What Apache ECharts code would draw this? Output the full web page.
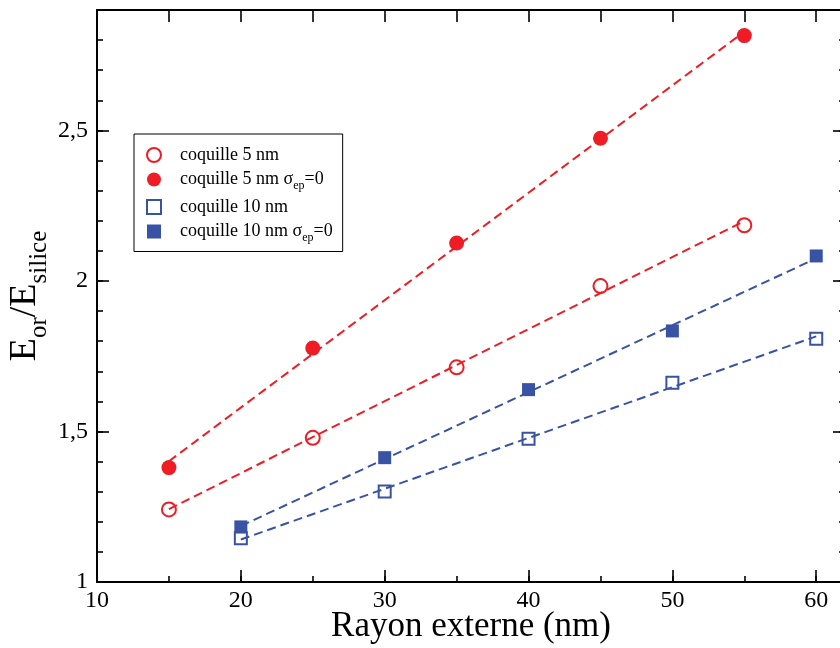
<!DOCTYPE html>
<html><head><meta charset="utf-8">
<script src="https://cdn.jsdelivr.net/npm/echarts@6/dist/echarts.min.js"></script>
<style>html,body{margin:0;padding:0;background:#fff}#c{width:840px;height:648px}</style>
</head><body><div id="c"></div>
<script>
// ---- data ----
const radius5nm = [15, 25, 35, 45, 55];
const radius10nm = [20, 30, 40, 50, 60];
const coquille5 = [1.241, 1.479, 1.713, 1.983, 2.185];
const coquille5Sigma0 = [1.380, 1.777, 2.126, 2.474, 2.815];
const coquille10 = [1.145, 1.301, 1.476, 1.662, 1.808];
const coquille10Sigma0 = [1.183, 1.413, 1.639, 1.834, 2.083];
// dashed fit lines (end points)
const fitX5 = [15, 55];
const fitX10 = [20, 60];
const fit5 = [1.242, 2.199];
const fit5Sigma0 = [1.401, 2.828];
const fit10 = [1.141, 1.816];
const fit10Sigma0 = [1.186, 2.075];
// tick labels
const xTickValues = [10, 20, 30, 40, 50, 60];
const xTickLabels = ['10', '20', '30', '40', '50', '60'];
const yTickValues = [1, 1.5, 2, 2.5];
const yTickLabels = ['1', '1,5', '2', '2,5'];
const seriesNames = ['coquille 5 nm', 'coquille 5 nm σep=0', 'coquille 10 nm', 'coquille 10 nm σep=0'];
const legendTexts = ['{n|coquille 5 nm}', '{n|coquille 5 nm σ}{s|ep}{n|=0}', '{n|coquille 10 nm}', '{n|coquille 10 nm σ}{s|ep}{n|=0}'];

const RED = '#ee1d25';
const BLUE = '#3953a4';
const FONT = '"Liberation Serif", "DejaVu Serif", serif';
const zip = (xs, ys) => xs.map((x, i) => [x, ys[i]]);

const XMIN = 10, XMAX = 62, YMIN = 1, YMAX = 2.9;
const lineCommon = { show: true, lineStyle: { color: '#000', width: 2 } };
const noLine = { show: false };
const tickMajor = { show: true, inside: true, length: 12, lineStyle: { color: '#000', width: 1.6 } };
const tickMinor = { show: true, inside: true, length: 6, lineStyle: { color: '#000', width: 1.6 } };
const noLabel = { show: false };

const chart = echarts.init(document.getElementById('c'), null, { renderer: 'canvas' });

function scatter(name, xs, ys, symbol, color, hollow, size) {
  return {
    name, type: 'scatter', xAxisIndex: 0, yAxisIndex: 0, z: 5,
    symbol, symbolSize: size,
    itemStyle: hollow
      ? { color: 'rgba(255,255,255,0)', borderColor: color, borderWidth: 2, opacity: 1 }
      : { color: color, borderWidth: 0, opacity: 1 },
    data: zip(xs, ys), silent: true
  };
}
function fit(name, xs, ys, color) {
  return {
    name, type: 'line', xAxisIndex: 0, yAxisIndex: 0, z: 3, symbol: 'none', silent: true,
    lineStyle: { color, width: 2, type: [9, 5] }, data: zip(xs, ys)
  };
}

chart.setOption({
  animation: false,
  backgroundColor: '#fff',
  grid: { left: 97, right: -5, top: 10, bottom: 66, outerBoundsMode: 'none', containLabel: false },
  legend: {
    data: seriesNames,
    orient: 'vertical', left: 134, top: 134,
    padding: [12, 10, 8, 12],
    backgroundColor: '#fff', borderColor: '#000', borderWidth: 1,
    itemWidth: 14, itemHeight: 14, itemGap: 6.5,
    formatter: (name) => legendTexts[seriesNames.indexOf(name)],
    itemStyle: { opacity: 1 },
    textStyle: {
      padding: [0, 0, 0, 14],
      rich: {
        n: { fontFamily: FONT, fontSize: 18, lineHeight: 24, color: '#000' },
        s: { fontFamily: FONT, fontSize: 12, lineHeight: 6, verticalAlign: 'bottom', color: '#000' }
      }
    },
    selectedMode: false
  },
  xAxis: [
    {
      type: 'value', position: 'bottom', min: XMIN, max: XMAX, interval: 10,
      axisLine: lineCommon, axisTick: tickMajor, splitLine: { show: false },
      axisLabel: {
        show: true, margin: 7, showMaxLabel: false, color: '#000', fontFamily: FONT, fontSize: 24,
        formatter: (v) => { const i = xTickValues.indexOf(v); return i >= 0 ? xTickLabels[i] : ''; }
      },
      name: 'Rayon externe (nm)', nameLocation: 'middle', nameGap: 27, nameMoveOverlap: false,
      nameTextStyle: { color: '#000', fontFamily: FONT, fontSize: 35, lineHeight: 35 }
    },
    { type: 'value', position: 'bottom', min: XMIN, max: XMAX, interval: 5, axisLine: noLine, axisTick: tickMinor, axisLabel: noLabel, splitLine: { show: false } },
    { type: 'value', position: 'top', min: XMIN, max: XMAX, interval: 5, axisLine: lineCommon, axisTick: tickMajor, axisLabel: noLabel, splitLine: { show: false } }
  ],
  yAxis: [
    {
      type: 'value', position: 'left', min: YMIN, max: YMAX, interval: 0.5,
      axisLine: lineCommon, axisTick: tickMajor, splitLine: { show: false },
      axisLabel: {
        show: true, margin: 9, showMaxLabel: false, color: '#000', fontFamily: FONT, fontSize: 24,
        formatter: (v) => { const i = yTickValues.findIndex(t => Math.abs(t - v) < 1e-9); return i >= 0 ? yTickLabels[i] : ''; }
      },
      name: '{m|E}{s|or}{m|/E}{s|silice}', nameLocation: 'middle', nameGap: 45, nameMoveOverlap: false,
      nameTextStyle: {
        rich: {
          m: { fontFamily: FONT, fontSize: 38, lineHeight: 54, color: '#000' },
          s: { fontFamily: FONT, fontSize: 25, lineHeight: 25, verticalAlign: 'bottom', color: '#000' }
        }
      }
    },
    { type: 'value', position: 'left', min: YMIN, max: YMAX, interval: 0.1, axisLine: noLine, axisTick: tickMinor, axisLabel: noLabel, splitLine: { show: false } },
    { type: 'value', position: 'right', min: YMIN, max: YMAX, interval: 0.5, axisLine: lineCommon, axisTick: tickMajor, axisLabel: noLabel, splitLine: { show: false } },
    { type: 'value', position: 'right', min: YMIN, max: YMAX, interval: 0.1, axisLine: noLine, axisTick: tickMinor, axisLabel: noLabel, splitLine: { show: false } }
  ],
  series: [
    fit('fit5', fitX5, fit5, RED),
    fit('fit5s', fitX5, fit5Sigma0, RED),
    fit('fit10', fitX10, fit10, BLUE),
    fit('fit10s', fitX10, fit10Sigma0, BLUE),
    scatter(seriesNames[0], radius5nm, coquille5, 'circle', RED, true, 14),
    scatter(seriesNames[1], radius5nm, coquille5Sigma0, 'circle', RED, false, 15),
    scatter(seriesNames[2], radius10nm, coquille10, 'rect', BLUE, true, 12),
    scatter(seriesNames[3], radius10nm, coquille10Sigma0, 'rect', BLUE, false, 13)
  ]
});
</script>
</body></html>
